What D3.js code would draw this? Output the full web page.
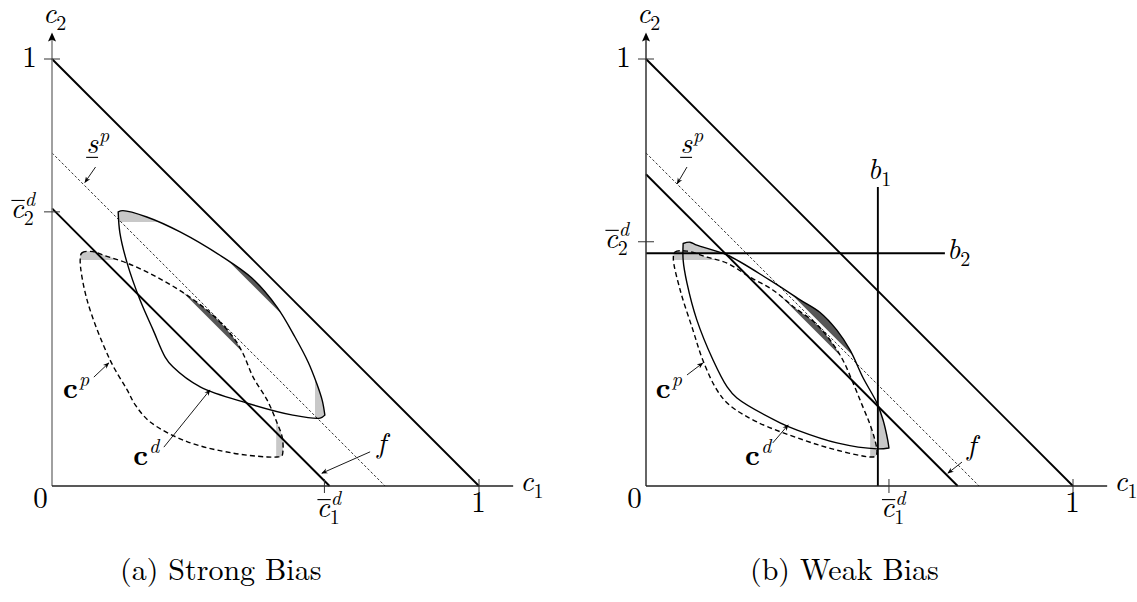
<!DOCTYPE html>
<html>
<head>
<meta charset="utf-8">
<script src="https://cdn.jsdelivr.net/npm/d3@7"></script>
<style>
  body { margin: 0; background: #fff; }
</style>
</head>
<body>
<svg width="1137" height="602"></svg>
<script>
// ---- data (c1, c2 in units of the budget) ----
var panelNames = ["(a) Strong Bias", "(b) Weak Bias"];
var budgetLevel = [1, 1];          // c1 + c2 = 1
var fLevel = [0.65, 0.73];         // solid line f
var spLevel = [0.78, 0.78];        // dotted line s^p
var cBar1 = [0.638, 0.569];        // tick c1-bar^d
var cBar2 = [0.642, 0.572];        // tick c2-bar^d
var bLines = [0.543, 0.545, 0.70]; // b1 (c1), b2 (c2), extent (weak panel only)

// thresholds of the shaded parts: [c2 above, c1 above, c1+c2 above]
var cdShade = [[0.618, 0.616, 0.94], [0.545, 0.543, 0.79]];
var cpShade = [[0.529, 0.525, 0.76], [0.529, 0.525, 0.76]];

// c^d (solid): upper arc tip -> tip, lower arc back
var cdUpper = [
  [[0.155,0.642],[0.166,0.645],[0.222,0.630],[0.300,0.595],[0.400,0.536],[0.468,0.487],
   [0.527,0.419],[0.569,0.349],[0.600,0.290],[0.620,0.240],[0.633,0.200],[0.639,0.166]],
  [[0.087,0.568],[0.103,0.571],[0.119,0.564],[0.190,0.541],[0.290,0.482],[0.361,0.436],
   [0.407,0.407],[0.447,0.365],[0.478,0.318],[0.508,0.254],[0.541,0.194],[0.555,0.155],
   [0.566,0.108],[0.569,0.089]]
];
var cdLower = [
  [[0.639,0.166],[0.628,0.159],[0.564,0.166],[0.457,0.194],[0.347,0.232],[0.283,0.279],
   [0.265,0.302],[0.237,0.365],[0.206,0.436],[0.176,0.522],[0.159,0.593],[0.155,0.642]],
  [[0.569,0.089],[0.541,0.087],[0.447,0.101],[0.354,0.131],[0.314,0.148],[0.213,0.206],
   [0.190,0.232],[0.157,0.295],[0.119,0.389],[0.096,0.475],[0.087,0.529],[0.087,0.568]]
];
// c^p (dashed): closed outline, clockwise from the top-left corner
var cpOutline = [
  [[0.066,0.530],[0.070,0.546],[0.096,0.549],[0.119,0.541],[0.176,0.522],[0.246,0.489],
   [0.316,0.447],[0.377,0.400],[0.424,0.349],[0.447,0.311],[0.471,0.255],[0.504,0.201],
   [0.527,0.148],[0.539,0.115],[0.541,0.084],[0.538,0.070],[0.527,0.068],[0.504,0.068],
   [0.424,0.077],[0.316,0.104],[0.230,0.150],[0.195,0.190],[0.176,0.225],[0.136,0.295],
   [0.082,0.436]],
  [[0.064,0.534],[0.068,0.548],[0.096,0.550],[0.143,0.536],[0.190,0.522],[0.244,0.489],
   [0.297,0.459],[0.349,0.417],[0.396,0.382],[0.431,0.342],[0.461,0.295],[0.485,0.241],
   [0.506,0.190],[0.525,0.143],[0.536,0.108],[0.541,0.080],[0.538,0.070],[0.525,0.068],
   [0.447,0.084],[0.368,0.108],[0.260,0.150],[0.195,0.190],[0.166,0.225],[0.133,0.295],
   [0.110,0.365],[0.080,0.459]]
];

// annotation arrows [from, to] and label anchors
var spArrow = [[[0.102,0.747],[0.077,0.711]], [[0.096,0.747],[0.073,0.708]]];
var spLabel = [[0.080,0.779], [0.080,0.779]];
var cpArrow = [[[0.098,0.255],[0.133,0.288]], [[0.096,0.260],[0.133,0.288]]];
var cpLabel = [[0.026,0.206], [0.023,0.206]];
var cdArrow = [[[0.262,0.091],[0.370,0.225]], [[0.297,0.101],[0.333,0.143]]];
var cdLabel = [[0.190,0.049], [0.232,0.049]];
var fArrow = [[[0.745,0.080],[0.632,0.030]], [[0.740,0.056],[0.707,0.030]]];
var fLabel = [[0.761,0.078], [0.752,0.073]];

// ---- layout ----
var unit = 427, baseY = 486, panelX = [52, 646], captionX = [120, 750];
var serif = "'Latin Modern Roman'";
var svg = d3.select("svg");
var defs = svg.append("defs");

defs.append("marker").attr("id", "tip").attr("viewBox", "0 0 10 10")
  .attr("refX", 9).attr("refY", 5).attr("markerWidth", 7).attr("markerHeight", 7)
  .attr("orient", "auto")
  .append("path").attr("d", "M0,1 L10,5 L0,9 L3,5 Z").attr("fill", "#000");
defs.append("marker").attr("id", "axtip").attr("viewBox", "0 0 10 10")
  .attr("markerUnits", "userSpaceOnUse")
  .attr("refX", 2).attr("refY", 5).attr("markerWidth", 11).attr("markerHeight", 9)
  .attr("orient", "auto")
  .append("path").attr("d", "M0,0.5 L10,5 L0,9.5 L2,5 Z").attr("fill", "#000");

function txt(g, size) {
  return g.append("text").style("font-family", serif).style("font-size", size + "px").attr("fill", "#000");
}

// math-ish label: base with optional super/subscript, bar and underline
function mtext(g, x, y, o) {
  var size = o.size || 29, ss = Math.round(size * 0.7);
  var t = txt(g, size).attr("y", y)
    .style("font-style", o.upright || o.bold ? "normal" : "italic")
    .style("font-weight", o.bold ? "bold" : "normal").text(o.base);
  var w = t.node().getComputedTextLength();
  var sup = null, sub = null, sw = 0;
  if (o.sup) {
    sup = txt(g, ss).attr("y", y - size * (o.sub ? 0.42 : 0.4)).style("font-style", "italic").text(o.sup);
    sw = Math.max(sw, sup.node().getComputedTextLength());
  }
  if (o.sub) {
    sub = txt(g, ss).attr("y", y + size * 0.24).text(o.sub);
    sw = Math.max(sw, sub.node().getComputedTextLength());
  }
  var total = w + sw + 1;
  var x0 = o.anchor === "end" ? x - total : o.anchor === "middle" ? x - total / 2 : x;
  t.attr("x", x0);
  if (sup) sup.attr("x", x0 + w + 1);
  if (sub) sub.attr("x", x0 + w);
  if (o.bar) g.append("line").attr("x1", x0 + 1).attr("x2", x0 + w + 1)
    .attr("y1", y - size * 0.6).attr("y2", y - size * 0.6).attr("stroke", "#000").attr("stroke-width", 1.1);
  if (o.under) g.append("line").attr("x1", x0).attr("x2", x0 + w)
    .attr("y1", y + 4).attr("y2", y + 4).attr("stroke", "#000").attr("stroke-width", 1.1);
}

panelNames.forEach(function (name, i) {
  var x = d3.scaleLinear().domain([0, 1]).range([panelX[i], panelX[i] + unit]);
  var y = d3.scaleLinear().domain([0, 1]).range([baseY, baseY - unit]);
  var g = svg.append("g");
  var P = function (d) { return [x(d[0]), y(d[1])]; };

  var open = d3.line().x(function (d) { return x(d[0]); }).y(function (d) { return y(d[1]); })
    .curve(d3.curveCatmullRom.alpha(0.5));
  var closed = d3.line().x(function (d) { return x(d[0]); }).y(function (d) { return y(d[1]); })
    .curve(d3.curveCatmullRomClosed.alpha(0.5));
  var cdPath = open(cdUpper[i]) + open(cdLower[i]).replace(/^M/, "L") + "Z";
  var cpPath = closed(cpOutline[i]);

  // clip regions (half planes)
  function clip(id, pts) {
    defs.append("clipPath").attr("id", id).append("polygon")
      .attr("points", pts.map(function (d) { return P(d).join(","); }).join(" "));
    return "url(#" + id + ")";
  }
  function shade(path, th, key) {
    var top = clip(key + "t" + i, [[0, th[0]], [2, th[0]], [2, 2], [0, 2]]);
    var right = clip(key + "r" + i, [[th[1], 0], [2, 0], [2, 2], [th[1], 2]]);
    var diag = clip(key + "d" + i, [[th[2], 0], [2, 0], [2, 2], [0, 2], [0, th[2]]]);
    g.append("path").attr("d", path).attr("fill", "#c8c8c8").attr("clip-path", top);
    g.append("path").attr("d", path).attr("fill", "#c8c8c8").attr("clip-path", right);
    g.append("path").attr("d", path).attr("fill", "#575757").attr("clip-path", diag);
  }
  shade(cpPath, cpShade[i], "cp");
  shade(cdPath, cdShade[i], "cd");

  // level lines c1 + c2 = k
  function level(k, w, dash) {
    var l = g.append("line").attr("x1", x(0)).attr("y1", y(k)).attr("x2", x(k)).attr("y2", y(0))
      .attr("stroke", "#000").attr("stroke-width", w);
    if (dash) l.attr("stroke-dasharray", dash);
  }
  level(spLevel[i], 0.8, "2.6,2");
  level(fLevel[i], 1.9);
  level(budgetLevel[i], 1.9);

  // curves
  g.append("path").attr("d", cpPath).attr("fill", "none").attr("stroke", "#000")
    .attr("stroke-width", 1.4).attr("stroke-dasharray", "5,3.2");
  g.append("path").attr("d", cdPath).attr("fill", "none").attr("stroke", "#000")
    .attr("stroke-width", 1.4).attr("stroke-linejoin", "round");

  // bounds b1, b2 (weak bias panel)
  if (i === 1) {
    g.append("line").attr("x1", x(bLines[0])).attr("x2", x(bLines[0]))
      .attr("y1", y(0)).attr("y2", y(bLines[2])).attr("stroke", "#000").attr("stroke-width", 1.9);
    g.append("line").attr("x1", x(0)).attr("x2", x(bLines[2]))
      .attr("y1", y(bLines[1])).attr("y2", y(bLines[1])).attr("stroke", "#000").attr("stroke-width", 1.9);
    mtext(g, x(bLines[0]) - 10, y(bLines[2]) - 8, { base: "b", sub: "1" });
    mtext(g, x(bLines[2]) + 2, y(bLines[1]) + 6, { base: "b", sub: "2" });
  }

  // axes
  g.append("line").attr("x1", x(0)).attr("y1", y(0)).attr("x2", x(0)).attr("y2", y(1.045))
    .attr("stroke", i === 0 ? "#808080" : "#333").attr("stroke-width", 1.5).attr("marker-end", "url(#axtip)");
  g.append("line").attr("x1", x(0)).attr("y1", y(0)).attr("x2", x(1.08)).attr("y2", y(0))
    .attr("stroke", "#222").attr("stroke-width", 1.3);
  [1, cBar2[i]].forEach(function (v) {
    g.append("line").attr("x1", x(0) - 8).attr("x2", x(0) + 8).attr("y1", y(v)).attr("y2", y(v))
      .attr("stroke", "#333").attr("stroke-width", 1);
  });
  [1, cBar1[i]].forEach(function (v) {
    g.append("line").attr("x1", x(v)).attr("x2", x(v)).attr("y1", y(0) - 7).attr("y2", y(0) + 7)
      .attr("stroke", "#333").attr("stroke-width", 1);
  });

  // axis labels
  mtext(g, x(0) - 9, 23, { base: "c", sub: "2" });
  mtext(g, x(1.08) + 7, y(0) + 5, { base: "c", sub: "1" });
  mtext(g, x(0) - 22, y(1) + 8, { base: "1", upright: true, anchor: "middle" });
  mtext(g, x(0) - 11, y(0) + 22, { base: "0", upright: true, anchor: "middle" });
  mtext(g, x(1), y(0) + 26, { base: "1", upright: true, anchor: "middle" });
  mtext(g, x(0) - 17, y(cBar2[i]) + 6, { base: "c", bar: true, sup: "d", sub: "2", anchor: "end" });
  mtext(g, x(cBar1[i]) - 8, y(0) + 31, { base: "c", bar: true, sup: "d", sub: "1" });

  // annotations
  function arrow(a) {
    g.append("line").attr("x1", x(a[0][0])).attr("y1", y(a[0][1]))
      .attr("x2", x(a[1][0])).attr("y2", y(a[1][1]))
      .attr("stroke", "#000").attr("stroke-width", 0.9).attr("marker-end", "url(#tip)");
  }
  arrow(spArrow[i]); arrow(cpArrow[i]); arrow(cdArrow[i]); arrow(fArrow[i]);
  mtext(g, x(spLabel[i][0]), y(spLabel[i][1]), { base: "s", sup: "p", under: true });
  mtext(g, x(cpLabel[i][0]), y(cpLabel[i][1]), { base: "c", bold: true, sup: "p" });
  mtext(g, x(cdLabel[i][0]), y(cdLabel[i][1]), { base: "c", bold: true, sup: "d" });
  mtext(g, x(fLabel[i][0]), y(fLabel[i][1]), { base: "f" });

  // caption
  txt(svg, 30).attr("x", captionX[i]).attr("y", 580).text(name);
});
</script>
</body>
</html>
